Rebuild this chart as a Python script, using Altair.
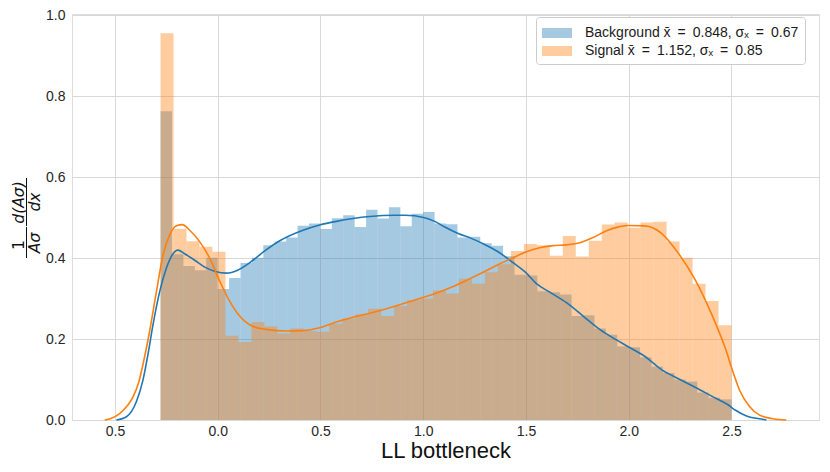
import altair as alt
import pandas as pd

# ---------------- data ----------------
HIST_START = -0.278
HIST_END = 2.5

BG_LABEL = "Background x̄\u2002=\u20020.848, σₓ\u2002=\u20020.67"
SIG_LABEL = "Signal x̄\u2002=\u20021.152, σₓ\u2002=\u20020.85"

bg_heights = [
    0.763, 0.410, 0.381, 0.370, 0.401, 0.324, 0.351, 0.388, 0.401, 0.432,
    0.441, 0.451, 0.480, 0.486, 0.472, 0.499, 0.506, 0.477, 0.520, 0.498,
    0.526, 0.479, 0.510, 0.514, 0.486, 0.484, 0.451, 0.453, 0.437, 0.431,
    0.405, 0.359, 0.357, 0.318, 0.316, 0.310, 0.257, 0.259, 0.226, 0.211,
    0.182, 0.180, 0.155, 0.132, 0.116, 0.100, 0.095, 0.068, 0.055, 0.051,
]

sig_heights = [
    0.956, 0.473, 0.442, 0.428, 0.416, 0.208, 0.193, 0.242, 0.231, 0.214,
    0.226, 0.220, 0.218, 0.238, 0.251, 0.261, 0.275, 0.257, 0.282, 0.296,
    0.300, 0.320, 0.313, 0.349, 0.337, 0.365, 0.385, 0.418, 0.435, 0.432,
    0.406, 0.455, 0.404, 0.443, 0.483, 0.488, 0.475, 0.488, 0.490, 0.441,
    0.401, 0.337, 0.294, 0.234,
]

bg_kde_x = [-0.493, -0.444, -0.396, -0.364, -0.339, -0.315, -0.282, -0.25, -0.226,
            -0.194, -0.161, -0.112, -0.063, -0.015, 0.042, 0.099, 0.164, 0.229, 0.302,
            0.415, 0.496, 0.577, 0.658, 0.740, 0.861, 0.910, 1.007, 1.056,
            1.105, 1.17, 1.234, 1.299, 1.364, 1.437, 1.502, 1.551, 1.616, 1.697,
            1.778, 1.859, 1.940, 1.998, 2.079, 2.161, 2.242, 2.323, 2.404, 2.485,
            2.52, 2.573, 2.637, 2.67]
bg_kde_y = [0.0, 0.008, 0.045, 0.098, 0.163, 0.235, 0.318, 0.375, 0.404,
            0.420, 0.411, 0.395, 0.378, 0.368, 0.363, 0.371, 0.392, 0.418, 0.443,
            0.469, 0.482, 0.491, 0.498, 0.503, 0.506, 0.506, 0.500, 0.491,
            0.477, 0.461, 0.449, 0.434, 0.416, 0.389, 0.363, 0.337, 0.316, 0.290,
            0.257, 0.224, 0.198, 0.181, 0.157, 0.124, 0.102, 0.081, 0.059, 0.037,
            0.024, 0.010, 0.003, 0.0]

sig_kde_x = [-0.55, -0.52, -0.477, -0.44, -0.412, -0.385, -0.363, -0.331, -0.298, -0.266,
             -0.234, -0.201, -0.172, -0.136, -0.088, -0.039, 0.01, 0.058, 0.107, 0.164,
             0.237, 0.334, 0.415, 0.496, 0.577, 0.658, 0.740, 0.813, 0.894, 0.975,
             1.056, 1.137, 1.218, 1.299, 1.364, 1.437, 1.502, 1.567, 1.632, 1.697,
             1.762, 1.827, 1.892, 1.956, 1.998, 2.079, 2.161, 2.242, 2.323, 2.404,
             2.469, 2.51, 2.54, 2.589, 2.637, 2.702, 2.767]
sig_kde_y = [0.0, 0.004, 0.016, 0.035, 0.057, 0.092, 0.139, 0.220, 0.318, 0.408,
             0.457, 0.480, 0.483, 0.469, 0.441, 0.400, 0.343, 0.294, 0.257, 0.233,
             0.224, 0.220, 0.221, 0.228, 0.242, 0.254, 0.264, 0.274, 0.286, 0.299,
             0.312, 0.328, 0.347, 0.367, 0.384, 0.401, 0.416, 0.426, 0.431, 0.433,
             0.438, 0.451, 0.468, 0.478, 0.481, 0.480, 0.461, 0.412, 0.347, 0.261,
             0.179, 0.115, 0.073, 0.033, 0.012, 0.003, 0.0]

x_ticks = [-0.5, 0.0, 0.5, 1.0, 1.5, 2.0, 2.5]
y_ticks = [0.0, 0.2, 0.4, 0.6, 0.8, 1.0]

BLUE = "#1f77b4"
ORANGE = "#ff7f0e"
FONT = "Liberation Sans"
GRID = "#d9d9d9"


def hist_df(heights, label):
    n = len(heights)
    w = (HIST_END - HIST_START) / n
    return pd.DataFrame({
        "x": [HIST_START + i * w for i in range(n)],
        "x_end": [HIST_START + (i + 1) * w for i in range(n)],
        "density": heights,
        "base": [0.0] * n,
        "series": [label] * n,
    })


bg_df = hist_df(bg_heights, BG_LABEL)
sig_df = hist_df(sig_heights, SIG_LABEL)
bg_kde = pd.DataFrame({"x": bg_kde_x, "density": bg_kde_y})
sig_kde = pd.DataFrame({"x": sig_kde_x, "density": sig_kde_y})

xscale = alt.Scale(domain=[-0.709, 2.926], nice=False, zero=False)
yscale = alt.Scale(domain=[0, 1.0037], nice=False)
cscale = alt.Scale(domain=[BG_LABEL, SIG_LABEL], range=[BLUE, ORANGE])

xaxis = alt.Axis(
    values=x_ticks, labelExpr="format(abs(datum.value), '.1f')",
    title="LL bottleneck", titleFont=FONT, titleFontSize=22, titleFontWeight="normal",
    titleColor="#111111", titlePadding=2,
    labelFont=FONT, labelFontSize=14, labelColor="#262626", labelPadding=4,
    ticks=False, tickSize=0, domain=False, grid=True, gridColor=GRID, labelFlush=False,
)
yaxis = alt.Axis(
    values=y_ticks, format=".1f", title=None,
    labelFont=FONT, labelFontSize=14, labelColor="#262626", labelPadding=7,
    ticks=False, tickSize=0, domain=False, grid=True, gridColor=GRID, labelFlush=False,
)

legend = alt.Legend(
    title=None, orient="none", legendX=464, legendY=3,
    symbolType="M-1.5,-0.5H1.5V0.5H-1.5Z", symbolSize=400, symbolOpacity=0.4,
    symbolStrokeWidth=0, symbolOffset=5, labelOffset=18,
    labelFont=FONT, labelFontSize=14, labelColor="#1a1a1a", labelLimit=400,
    padding=6, rowPadding=1, strokeColor="#cccccc", fillColor="white", cornerRadius=3,
)


def bars(df):
    return alt.Chart(df).mark_rect(opacity=0.4, strokeWidth=0).encode(
        x=alt.X("x:Q", scale=xscale, axis=xaxis),
        x2="x_end:Q",
        y=alt.Y("density:Q", scale=yscale, axis=yaxis),
        y2="base:Q",
        color=alt.Color("series:N", scale=cscale, legend=legend),
    )


def kde(df, color):
    return alt.Chart(df).mark_line(color=color, strokeWidth=1.6, interpolate="monotone").encode(
        x=alt.X("x:Q", scale=xscale, axis=xaxis),
        y=alt.Y("density:Q", scale=yscale, axis=yaxis),
    )


# y-axis title drawn as a rotated fraction: 1/(Aσ) · d(Aσ)/dx
def label_piece(text, px, py, italic=True):
    return alt.Chart(pd.DataFrame({"t": [text]})).mark_text(
        angle=270, align="center", baseline="middle", font="DejaVu Sans",
        fontSize=15.5, fontStyle="italic" if italic else "normal", color="#111111",
    ).encode(x=alt.value(px), y=alt.value(py), text="t:N")


def frac_bar(px, py0, py1):
    return alt.Chart(pd.DataFrame({"a": [0]})).mark_rule(color="#111111", strokeWidth=1).encode(
        x=alt.value(px), y=alt.value(py0), y2=alt.value(py1)
    )


title_marks = [
    label_piece("1", -53, 231, italic=False),
    label_piece("Aσ", -37, 229),
    frac_bar(-45.5, 213, 244),
    label_piece("d(Aσ)", -53.5, 188.5),
    label_piece("dx", -37, 188),
    frac_bar(-45.5, 164, 212),
]

chart = alt.layer(
    bars(bg_df), bars(sig_df), kde(bg_kde, BLUE), kde(sig_kde, ORANGE), *title_marks
).properties(
    width=747, height=406,
    autosize=alt.AutoSizeParams(type="none"),
    padding={"left": 64, "top": 6, "right": 3, "bottom": 52},
).configure_view(stroke=GRID, strokeWidth=1).configure(background="white")

chart.save("out.html", embed_options={"renderer": "svg", "actions": False})
